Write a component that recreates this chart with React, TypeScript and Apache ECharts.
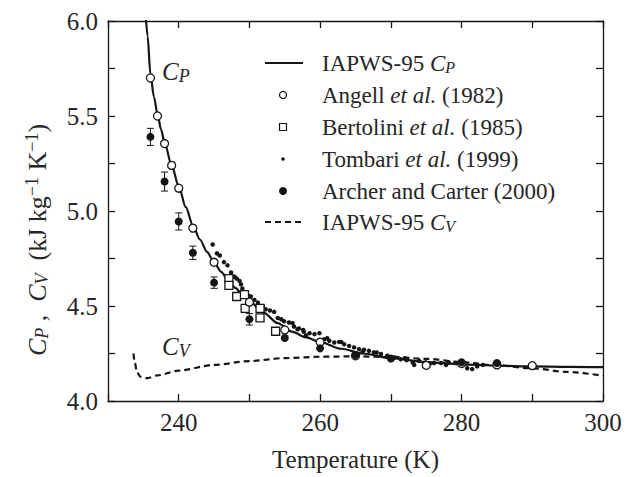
import React, { useEffect, useRef } from "react";
import * as echarts from "echarts";

// IAPWS-95 isobaric heat capacity curve (T in K, C_P in kJ kg^-1 K^-1)
const cpCurve: [number, number][] = [
  [235.3, 6.05], [235.6, 5.92], [236, 5.72], [236.5, 5.6], [237, 5.51], [237.5, 5.43],
  [238, 5.36], [239, 5.24], [240, 5.13], [241, 5.02], [242, 4.925], [243, 4.85],
  [244, 4.785], [245, 4.73], [246, 4.68], [247, 4.635], [248, 4.595], [249, 4.56],
  [250, 4.525], [252, 4.465], [254, 4.41], [256, 4.365], [258, 4.335], [260, 4.31],
  [263, 4.275], [266, 4.25], [270, 4.225], [275, 4.205], [280, 4.193], [285, 4.186],
  [290, 4.182], [295, 4.18], [300, 4.178],
];

// IAPWS-95 isochoric heat capacity curve
const cvCurve: [number, number][] = [
  [233.6, 4.25], [233.8, 4.2], [234.1, 4.15], [234.6, 4.127], [235.5, 4.12], [237, 4.135],
  [240, 4.16], [245, 4.19], [250, 4.21], [255, 4.226], [260, 4.233], [265, 4.235],
  [270, 4.232], [275, 4.222], [280, 4.205], [285, 4.187], [290, 4.172], [295, 4.153],
  [300, 4.133],
];

// Angell et al. (1982)
const angell: [number, number][] = [
  [236.0, 5.7], [237.0, 5.5], [238.0, 5.355], [239.0, 5.24], [240.0, 5.12], [242.0, 4.91],
  [245.0, 4.73], [250.0, 4.52], [255.0, 4.374], [260.0, 4.31], [265.0, 4.238],
  [275.0, 4.188], [280.0, 4.197], [285.0, 4.19], [290.0, 4.186],
];

// Bertolini et al. (1985)
const bertolini: [number, number][] = [
  [247.1, 4.644], [247.1, 4.609], [248.2, 4.55], [249.3, 4.56], [249.4, 4.487],
  [251.5, 4.487], [251.5, 4.437], [253.7, 4.367],
];

// Tombari et al. (1999)
const tombari: [number, number][] = [
  [244.8, 4.824], [245.4, 4.777], [245.8, 4.766], [246.4, 4.731], [246.9, 4.714],
  [247.4, 4.676], [247.9, 4.654], [248.2, 4.644], [248.6, 4.632], [248.8, 4.614],
  [249.0, 4.592], [249.5, 4.571], [249.8, 4.555], [250.2, 4.55], [250.7, 4.532],
  [251.2, 4.518], [251.9, 4.5], [252.3, 4.483], [252.9, 4.476], [253.5, 4.469],
  [254.0, 4.437], [254.5, 4.43], [254.9, 4.42], [255.6, 4.413], [256.1, 4.41],
  [256.3, 4.392], [256.8, 4.378], [257.0, 4.382], [257.6, 4.374], [257.7, 4.364],
  [258.0, 4.345], [258.5, 4.357], [259.2, 4.352], [259.9, 4.357], [260.6, 4.325],
  [261.0, 4.33], [261.3, 4.317], [262.0, 4.308], [262.7, 4.311], [263.0, 4.31],
  [263.4, 4.299], [264.1, 4.29], [264.8, 4.282], [265.5, 4.273], [266.0, 4.26],
  [266.2, 4.27], [266.9, 4.264], [267.6, 4.256], [268.0, 4.255], [268.6, 4.247],
  [269.5, 4.238], [270.5, 4.229], [271.4, 4.22], [272.0, 4.225], [272.2, 4.215],
  [273.1, 4.203], [273.3, 4.19], [274.0, 4.211], [274.9, 4.203], [275.5, 4.195],
  [276.1, 4.2], [277.1, 4.2], [277.8, 4.19], [278.2, 4.203], [279.2, 4.2],
  [279.8, 4.205], [280.8, 4.172], [281.5, 4.168], [282.2, 4.182], [283.0, 4.19],
];

// Archer and Carter (2000): T, C_P, error
const archer: [number, number, number][] = [
  [236.0, 5.39, 0.045], [238.0, 5.155, 0.05], [240.0, 4.945, 0.045], [242.0, 4.78, 0.035],
  [245.0, 4.623, 0.03], [250.0, 4.43, 0.03], [255.0, 4.332, 0], [260.0, 4.277, 0],
  [265.0, 4.242, 0], [270.0, 4.224, 0], [280.0, 4.204, 0], [285.0, 4.2, 0],
];

const xMin = 230;
const xMax = 300;
const xStep = 10;
const xLabelStep = 20;
const yMin = 4.0;
const yMax = 6.0;
const yStep = 0.25;
const yLabelStep = 0.5;

const legendTexts = [
  "{n|IAPWS-95 }{i|C}{sub|P}",
  "{n|Angell }{i|et al.}{n| (1982)}",
  "{n|Bertolini }{i|et al.}{n| (1985)}",
  "{n|Tombari }{i|et al.}{n| (1999)}",
  "{n|Archer and Carter (2000)}",
  "{n|IAPWS-95 }{i|C}{sub|V}",
];

const FONT = "Liberation Serif";
const INK = "#151515";
const TXT = "#262626";

function makeRich(size: number, subSize: number, shift: number) {
  return {
    n: { fontSize: size, fontFamily: FONT, fill: TXT },
    i: { fontSize: size, fontFamily: FONT, fontStyle: "italic", fill: TXT },
    sub: { fontSize: subSize, fontFamily: FONT, fontStyle: "italic", fill: TXT, padding: [shift, 0, 0, 0] },
    sup: { fontSize: subSize, fontFamily: FONT, fill: TXT, padding: [0, 0, shift, 0] },
  };
}

export default function App() {
  const ref = useRef<HTMLDivElement>(null);

  useEffect(() => {
    document.body.style.margin = "0";
    if (!ref.current) return;
    const chart = echarts.init(ref.current, null, { renderer: "svg" });

    const rowsY = [63, 95, 127, 159, 191, 222];
    const legendGraphics: any[] = [];
    legendTexts.forEach((t, k) => {
      legendGraphics.push({
        type: "text",
        x: 322,
        y: rowsY[k],
        style: { text: t, rich: makeRich(23, 16, 9), align: "left", verticalAlign: "middle" },
      });
    });
    legendGraphics.push(
      { type: "line", shape: { x1: 265, y1: rowsY[0], x2: 303, y2: rowsY[0] }, style: { stroke: INK, lineWidth: 2.2 } },
      { type: "circle", shape: { cx: 283, cy: rowsY[1], r: 3.5 }, style: { fill: "#fff", stroke: INK, lineWidth: 1.2 } },
      { type: "rect", shape: { x: 279.5, y: rowsY[2] - 3.5, width: 7, height: 7 }, style: { fill: "#fff", stroke: INK, lineWidth: 1.2 } },
      { type: "circle", shape: { cx: 283, cy: rowsY[3], r: 1.8 }, style: { fill: INK } },
      { type: "circle", shape: { cx: 283, cy: rowsY[4], r: 4 }, style: { fill: INK } },
      { type: "line", shape: { x1: 265, y1: rowsY[5], x2: 303, y2: rowsY[5] }, style: { stroke: INK, lineWidth: 2.2, lineDash: [6, 4] } }
    );

    const option: any = {
      animation: false,
      backgroundColor: "#ffffff",
      textStyle: { fontFamily: FONT },
      grid: { left: 108, right: 31, top: 21, bottom: 75, containLabel: false },
      xAxis: [
        {
          type: "value",
          position: "bottom",
          min: xMin,
          max: xMax,
          interval: xStep,
          axisLine: { show: true, lineStyle: { color: INK, width: 1.3 } },
          axisTick: { show: true, inside: true, length: 7, lineStyle: { color: INK, width: 1.3 } },
          axisLabel: {
            margin: 9,
            fontSize: 25,
            fontFamily: FONT,
            color: TXT,
            formatter: (v: number) => (Math.abs(v % xLabelStep) < 1e-6 ? String(v) : ""),
          },
          splitLine: { show: false },
          name: "Temperature (K)",
          nameLocation: "middle",
          nameGap: 46,
          nameTextStyle: { fontSize: 25, fontFamily: FONT, color: TXT },
        },
        {
          type: "value",
          position: "top",
          min: xMin,
          max: xMax,
          interval: xStep,
          axisLine: { show: true, lineStyle: { color: INK, width: 1.3 } },
          axisTick: { show: true, inside: true, length: 7, lineStyle: { color: INK, width: 1.3 } },
          axisLabel: { show: false },
          splitLine: { show: false },
        },
      ],
      yAxis: [
        {
          type: "value",
          position: "left",
          min: yMin,
          max: yMax,
          interval: yStep,
          axisLine: { show: true, lineStyle: { color: INK, width: 1.3 } },
          axisTick: { show: true, inside: true, length: 7, lineStyle: { color: INK, width: 1.3 } },
          axisLabel: {
            margin: 10,
            fontSize: 25,
            fontFamily: FONT,
            color: TXT,
            formatter: (v: number) => {
              const r = v / yLabelStep;
              return Math.abs(r - Math.round(r)) < 1e-6 ? v.toFixed(1) : "";
            },
          },
          splitLine: { show: false },
        },
        {
          type: "value",
          position: "right",
          min: yMin,
          max: yMax,
          interval: yStep,
          axisLine: { show: true, lineStyle: { color: INK, width: 1.3 } },
          axisTick: { show: true, inside: true, length: 7, lineStyle: { color: INK, width: 1.3 } },
          axisLabel: { show: false },
          splitLine: { show: false },
        },
      ],
      series: [
        {
          name: "IAPWS-95 CV",
          type: "line",
          data: cvCurve,
          showSymbol: false,
          smooth: 0.3,
          smoothMonotone: "x",
          lineStyle: { color: INK, width: 2.2, type: [6, 4] },
          z: 2,
        },
        {
          name: "IAPWS-95 CP",
          type: "line",
          data: cpCurve,
          showSymbol: false,
          smooth: 0.3,
          smoothMonotone: "x",
          lineStyle: { color: INK, width: 2.2 },
          z: 3,
        },
        {
          name: "Tombari",
          type: "scatter",
          data: tombari,
          symbol: "circle",
          symbolSize: 4.5,
          itemStyle: { color: INK, opacity: 1 },
          z: 4,
        },
        {
          name: "Bertolini",
          type: "scatter",
          data: bertolini,
          symbol: "rect",
          symbolSize: 8,
          itemStyle: { color: "#fff", borderColor: INK, borderWidth: 1.3, opacity: 1 },
          z: 5,
        },
        {
          name: "Angell",
          type: "scatter",
          data: angell,
          symbol: "circle",
          symbolSize: 8,
          itemStyle: { color: "#fff", borderColor: INK, borderWidth: 1.3, opacity: 1 },
          z: 6,
        },
        {
          name: "Archer error",
          type: "custom",
          data: archer.filter((d) => d[2] > 0),
          z: 7,
          renderItem: (params: any, api: any) => {
            const x = api.value(0);
            const y = api.value(1);
            const e = api.value(2);
            const top = api.coord([x, y + e]);
            const bot = api.coord([x, y - e]);
            const w = 3.5;
            const st = { stroke: INK, lineWidth: 1 };
            return {
              type: "group",
              children: [
                { type: "line", shape: { x1: top[0], y1: top[1], x2: bot[0], y2: bot[1] }, style: st },
                { type: "line", shape: { x1: top[0] - w, y1: top[1], x2: top[0] + w, y2: top[1] }, style: st },
                { type: "line", shape: { x1: bot[0] - w, y1: bot[1], x2: bot[0] + w, y2: bot[1] }, style: st },
              ],
            };
          },
        },
        {
          name: "Archer",
          type: "scatter",
          data: archer.map((d) => [d[0], d[1]]),
          symbol: "circle",
          symbolSize: 8,
          itemStyle: { color: INK, opacity: 1 },
          z: 8,
        },
      ],
      graphic: [
        {
          type: "text",
          x: 37,
          y: 240,
          rotation: Math.PI / 2,
          style: {
            text: "{i|C}{sub|P}{n| ,  }{i|C}{sub|V}{n|  (kJ kg}{sup|−1}{n| K}{sup|−1}{n|)}",
            rich: makeRich(26, 18, 10),
            align: "center",
            verticalAlign: "middle",
          },
        },
        {
          type: "text",
          x: 162,
          y: 71,
          style: { text: "{i|C}{sub|P}", rich: makeRich(25, 18, 9), align: "left", verticalAlign: "middle" },
        },
        {
          type: "text",
          x: 162,
          y: 346,
          style: { text: "{i|C}{sub|V}", rich: makeRich(25, 18, 9), align: "left", verticalAlign: "middle" },
        },
        ...legendGraphics,
      ],
    };

    chart.setOption(option);
    return () => chart.dispose();
  }, []);

  return <div ref={ref} style={{ width: 634, height: 477 }} />;
}
